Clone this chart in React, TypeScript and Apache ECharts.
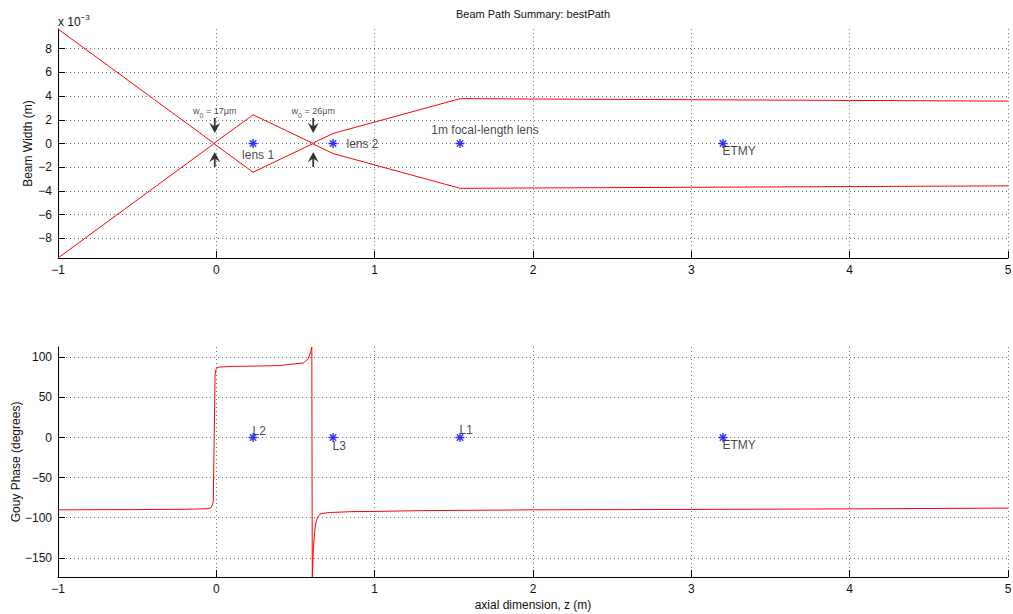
import React, { useEffect, useRef } from "react";
import * as echarts from "echarts";

// ---------- data ----------
const beamZ = [-1, -0.015, 0.232, 0.608, 0.738, 1.54, 2, 3, 4, 5];
const beamWidth = [9.65e-3, 0.017e-3, 2.42e-3, 0.026e-3, 0.85e-3, 3.78e-3, 3.75e-3, 3.69e-3, 3.63e-3, 3.57e-3];

const gouyZ = [
  -1, -0.5, -0.2, -0.06, -0.04, -0.03, -0.024, -0.019, -0.0135, -0.008, -0.004, 0.005, 0.02,
  0.1, 0.25, 0.4, 0.465, 0.549, 0.581, 0.596, 0.603,
  0.606, 0.609, 0.613, 0.617, 0.623, 0.63, 0.64, 0.655, 0.68, 0.72, 0.85, 1, 1.3, 2, 3, 4, 5,
];
const gouyDeg = [
  -90.2, -89.9, -89.5, -88.8, -88, -86.5, -83, -80, 0, 78, 84, 87, 88,
  88.8, 89.2, 89.8, 91.4, 93, 98.5, 107, 113,
  -174, -160, -140, -127, -114, -105, -99, -95.5, -94.3, -93.5, -92.5, -92.2, -91.2, -90.2, -89.7, -89, -88,
];

const lensZ = [0.232, 0.737, 1.539, 3.2];
const lensTopLabels = ["lens 1", "lens 2", "1m focal-length lens", "ETMY"];
const lensBottomLabels = ["L2", "L3", "L1", "ETMY"];

const waistZ = [-0.01, 0.612];
const waistSizes = ["17μm", "26μm"];

const titleText = "Beam Path Summary: bestPath";
const topYName = "Beam Width (m)";
const bottomYName = "Gouy Phase (degrees)";
const xName = "axial dimension, z (m)";

// ---------- styles ----------
const FONT = '"Liberation Sans", Arial, Helvetica, sans-serif';
const TXT = "#111";
const GRIDC = "#707070";

const ASTERISK =
  "path://M-5,-0.8L5,-0.8L5,0.8L-5,0.8Z" +
  "M0.8,-5L0.8,5L-0.8,5L-0.8,-5Z" +
  "M-3.04,-4.1L4.1,3.04L3.04,4.1L-4.1,-3.04Z" +
  "M4.1,-3.04L-3.04,4.1L-4.1,3.04L3.04,-4.1Z";
const ARROW = "path://M4.2,0L5.8,0L5.8,7.5L10,4.5L5,14L0,4.5L4.2,7.5Z";

const fmtNum = (n: number) => (n < 0 ? "\u2212" + Math.abs(n) : String(n));

function xAxisCfg(gridIndex: number, withName: boolean) {
  return {
    type: "value",
    gridIndex,
    min: -1,
    max: 5,
    interval: 1,
    axisLine: { show: true, onZero: false, lineStyle: { color: "#000", width: 1 } },
    axisTick: { show: true, inside: true, length: 7, lineStyle: { color: "#000" } },
    axisLabel: {
      color: TXT,
      fontSize: 12,
      fontFamily: FONT,
      margin: 6,
      formatter: (v: number) => fmtNum(Math.round(v)),
    },
    splitLine: { show: true, showMinLine: false, lineStyle: { color: GRIDC, type: [1, 3], width: 1 } },
    name: withName ? xName : "",
    nameLocation: "middle",
    nameGap: 22,
    nameMoveOverlap: false,
    nameTextStyle: { color: TXT, fontSize: 12, fontFamily: FONT },
  };
}

function yAxisCfg(
  gridIndex: number,
  min: number,
  max: number,
  splitNumber: number,
  name: string,
  scale: number,
  nameGap: number
) {
  return {
    type: "value",
    gridIndex,
    min,
    max,
    splitNumber,
    axisLine: { show: true, onZero: false, lineStyle: { color: "#000", width: 1 } },
    axisTick: { show: true, inside: true, length: 7, lineStyle: { color: "#000" } },
    axisLabel: {
      color: TXT,
      fontSize: 12,
      fontFamily: FONT,
      margin: 6,
      showMinLabel: false,
      showMaxLabel: false,
      formatter: (v: number) => fmtNum(Math.round(v * scale)),
    },
    splitLine: {
      show: true,
      showMinLine: false,
      showMaxLine: false,
      lineStyle: { color: GRIDC, type: [1, 3], width: 1 },
    },
    name,
    nameLocation: "middle",
    nameGap,
    nameMoveOverlap: false,
    nameRotate: 90,
    nameTextStyle: { color: TXT, fontSize: 12, fontFamily: FONT },
  };
}

const labelBase = { show: true, color: TXT, fontSize: 12, fontFamily: FONT };

const topLabelStyles: any[] = [
  { position: "bottom", distance: 1, offset: [5, 0] },
  { position: "right", distance: 9 },
  { position: "top", distance: 3, offset: [25, 0] },
  { position: [4, 6], align: "left", verticalAlign: "top" },
];
const bottomLabelStyles: any[] = [
  { position: [4, 4], align: "left", verticalAlign: "bottom" },
  { position: [4, 7], align: "left", verticalAlign: "top" },
  { position: [4, 3], align: "left", verticalAlign: "bottom" },
  { position: [4, 6], align: "left", verticalAlign: "top" },
];

function buildOption() {
  const upper = beamZ.map((z, i) => [z, beamWidth[i]]);
  const lower = beamZ.map((z, i) => [z, -beamWidth[i]]);
  const gouy = gouyZ.map((z, i) => [z, gouyDeg[i]]);
  const wMax = beamWidth[0];
  const gMin = Math.min(...gouyDeg);
  const gMax = Math.max(...gouyDeg);

  return {
    animation: false,
    backgroundColor: "#fff",
    textStyle: { fontFamily: FONT },
    grid: [
      { left: 58, right: 5, top: 29, height: 229, containLabel: false, outerBoundsMode: "none" },
      { left: 58, right: 5, top: 347, height: 230, containLabel: false, outerBoundsMode: "none" },
    ],
    xAxis: [xAxisCfg(0, false), xAxisCfg(1, true)],
    yAxis: [
      yAxisCfg(0, -wMax, wMax, 10, topYName, 1000, 24),
      yAxisCfg(1, gMin, gMax, 6, bottomYName, 1, 36),
    ],
    graphic: [
      {
        type: "text",
        x: 533,
        y: 14,
        style: {
          text: titleText,
          fill: TXT,
          fontSize: 11,
          fontFamily: FONT,
          align: "center",
          verticalAlign: "middle",
        },
      },
      {
        type: "text",
        x: 58,
        y: 13,
        style: {
          text: "{a|x 10}{b|\u22123}",
          fill: TXT,
          fontFamily: FONT,
          align: "left",
          verticalAlign: "top",
          rich: {
            a: { fontSize: 12, lineHeight: 15, verticalAlign: "bottom", fill: TXT, fontFamily: FONT },
            b: { fontSize: 8, lineHeight: 15, verticalAlign: "top", fill: TXT, fontFamily: FONT },
          },
        },
      },
    ],
    series: [
      {
        type: "line",
        xAxisIndex: 0,
        yAxisIndex: 0,
        data: upper,
        showSymbol: false,
        lineStyle: { color: "#ff0000", width: 1 },
        silent: true,
      },
      {
        type: "line",
        xAxisIndex: 0,
        yAxisIndex: 0,
        data: lower,
        showSymbol: false,
        lineStyle: { color: "#ff0000", width: 1 },
        silent: true,
      },
      {
        type: "scatter",
        xAxisIndex: 0,
        yAxisIndex: 0,
        symbol: ASTERISK,
        symbolSize: 9,
        itemStyle: { color: "#0000ff" },
        data: lensZ.map((z, i) => ({
          value: [z, 0],
          label: { ...labelBase, formatter: lensTopLabels[i], ...topLabelStyles[i] },
        })),
        z: 5,
      },
      {
        type: "scatter",
        xAxisIndex: 0,
        yAxisIndex: 0,
        symbol: ARROW,
        symbolSize: [11, 15],
        symbolOffset: [0, -18],
        itemStyle: { color: "#000" },
        data: waistZ.map((z, i) => ({
          value: [z, 0],
          label: {
            show: true,
            position: "top",
            distance: 2,
            formatter: "{w|w}{s|0}{w| = " + waistSizes[i] + "}",
            rich: {
              w: { fontSize: 9, lineHeight: 11, verticalAlign: "middle", color: TXT, fontFamily: FONT },
              s: { fontSize: 7, lineHeight: 11, verticalAlign: "bottom", color: TXT, fontFamily: FONT, padding: [0, 0, -3, 0] },
            },
          },
        })),
        z: 6,
      },
      {
        type: "scatter",
        xAxisIndex: 0,
        yAxisIndex: 0,
        symbol: ARROW,
        symbolSize: [11, 15],
        symbolRotate: 180,
        symbolOffset: [0, 16],
        itemStyle: { color: "#000" },
        data: waistZ.map((z) => [z, 0]),
        z: 6,
      },
      {
        type: "line",
        xAxisIndex: 1,
        yAxisIndex: 1,
        data: gouy,
        showSymbol: false,
        lineStyle: { color: "#ff0000", width: 1 },
        silent: true,
      },
      {
        type: "scatter",
        xAxisIndex: 1,
        yAxisIndex: 1,
        symbol: ASTERISK,
        symbolSize: 9,
        itemStyle: { color: "#0000ff" },
        data: lensZ.map((z, i) => ({
          value: [z, 0],
          label: { ...labelBase, formatter: lensBottomLabels[i], ...bottomLabelStyles[i] },
        })),
        z: 5,
      },
    ],
  };
}

export default function App() {
  const ref = useRef<HTMLDivElement>(null);
  useEffect(() => {
    if (!ref.current) return;
    const chart = echarts.init(ref.current, null, { renderer: "svg" });
    chart.setOption(buildOption() as any);
    return () => chart.dispose();
  }, []);
  return (
    <div
      ref={ref}
      style={{ position: "absolute", left: 0, top: 0, width: 1013, height: 614, background: "#fff" }}
    />
  );
}
